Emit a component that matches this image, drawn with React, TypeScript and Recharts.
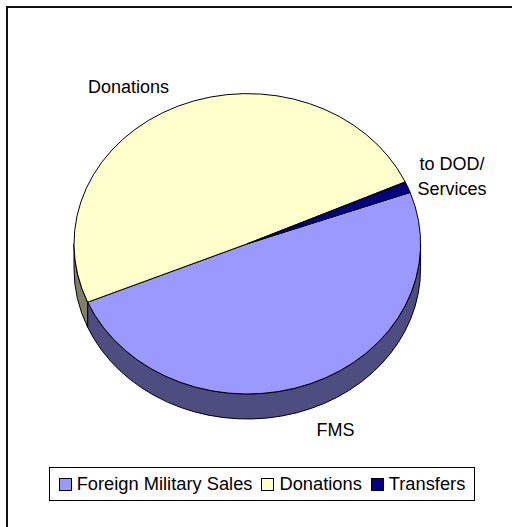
import React from 'react';
import { PieChart, Pie, Legend } from 'recharts';

const CATEGORIES = ['Foreign Military Sales', 'Donations', 'Transfers'];
const VALUES = [49.2, 49.6, 1.2];
const LABEL_LINES = [['FMS'], ['Donations'], ['to DOD/', 'Services']];

const TOP_COLORS = ['#9999FF', '#FFFFCC', '#000080'];
const SIDE_COLORS = ['#4D4D80', '#808066', '#000040'];

const CX = 247.3;
const CY = 243.8;
const RX = 173.3;
const ASPECT = 150.2 / 173.3;
const DEPTH = 25;
const LABEL_FACTOR = 1.25;
const LABEL_NUDGE = [
  [9, 11],
  [-32, 15],
  [4, 3],
];
const FONT = '"Liberation Sans", Arial, sans-serif';
const LABEL_FS = 18;
const LABEL_LH = 24.3;

const data = CATEGORIES.map((name, i) => ({ name, value: VALUES[i] }));

const rad = (d: number) => (d * Math.PI) / 180;

function pt(cx: number, cy: number, rx: number, ry: number, a: number, dy = 0) {
  return [cx + rx * Math.cos(rad(a)), cy - ry * Math.sin(rad(a)) + dy];
}

function wallPaths(cx: number, cy: number, rx: number, ry: number, s: number, e: number) {
  const lo = Math.min(s, e);
  const hi = Math.max(s, e);
  const out: string[] = [];
  for (let k = -3; k <= 2; k++) {
    const f0 = 180 + 360 * k;
    const f1 = 360 + 360 * k;
    const a = Math.max(lo, f0);
    const b = Math.min(hi, f1);
    if (b - a > 0.01) {
      const p1 = pt(cx, cy, rx, ry, a);
      const p2 = pt(cx, cy, rx, ry, b);
      const q2 = pt(cx, cy, rx, ry, b, DEPTH);
      const q1 = pt(cx, cy, rx, ry, a, DEPTH);
      out.push(
        `M${p1[0]},${p1[1]} A${rx},${ry} 0 0 0 ${p2[0]},${p2[1]} L${q2[0]},${q2[1]} A${rx},${ry} 0 0 1 ${q1[0]},${q1[1]} Z`
      );
    }
  }
  return out;
}

function renderSlice(props: any) {
  const { cx, cy, outerRadius, startAngle, endAngle, midAngle, index } = props;
  const rx = outerRadius;
  const ry = outerRadius * ASPECT;
  const walls = wallPaths(cx, cy, rx, ry, startAngle, endAngle);
  const ps = pt(cx, cy, rx, ry, startAngle);
  const pe = pt(cx, cy, rx, ry, endAngle);
  const large = Math.abs(startAngle - endAngle) > 180 ? 1 : 0;
  const sweep = startAngle > endAngle ? 1 : 0;
  const top = `M${cx},${cy} L${ps[0]},${ps[1]} A${rx},${ry} 0 ${large} ${sweep} ${pe[0]},${pe[1]} Z`;
  const mid = midAngle ?? (startAngle + endAngle) / 2;
  const lp = pt(cx, cy, rx * LABEL_FACTOR, ry * LABEL_FACTOR, mid);
  const lx = lp[0] + LABEL_NUDGE[index][0];
  const ly = lp[1] + LABEL_NUDGE[index][1];
  const lines = LABEL_LINES[index];
  const base = ly + 0.36 * LABEL_FS - ((lines.length - 1) * LABEL_LH) / 2;
  return (
    <g key={`slice-${index}`}>
      {walls.map((d, j) => (
        <path key={j} d={d} fill={SIDE_COLORS[index]} stroke="#000" strokeWidth={1} strokeLinejoin="round" />
      ))}
      <path d={top} fill={TOP_COLORS[index]} stroke="#000" strokeWidth={1} strokeLinejoin="round" />
      <text x={lx} y={base} textAnchor="middle" fontFamily={FONT} fontSize={LABEL_FS} fill="#000">
        {lines.map((l, j) => (
          <tspan key={j} x={lx} y={base + j * LABEL_LH}>
            {l}
          </tspan>
        ))}
      </text>
    </g>
  );
}

function renderLegend(props: any) {
  const payload = [...(props.payload || [])].sort(
    (a: any, b: any) => CATEGORIES.indexOf(a.value) - CATEGORIES.indexOf(b.value)
  );
  return (
    <div
      style={{
        border: '1px solid #000',
        boxSizing: 'border-box',
        height: 34,
        width: 426,
        display: 'flex',
        alignItems: 'center',
        justifyContent: 'center',
        background: '#fff',
        fontFamily: FONT,
        fontSize: 18.3,
        color: '#000',
        whiteSpace: 'nowrap',
      }}
    >
      {payload.map((entry: any, i: number) => {
        const ci = CATEGORIES.indexOf(entry.value);
        return (
          <span
            key={i}
            style={{ display: 'inline-flex', alignItems: 'center', marginRight: i < payload.length - 1 ? 9 : 0 }}
          >
            <span
              style={{
                display: 'inline-block',
                width: 13,
                height: 13,
                boxSizing: 'border-box',
                border: '1px solid #000',
                background: TOP_COLORS[ci],
                marginRight: 5,
              }}
            />
            {entry.value}
          </span>
        );
      })}
    </div>
  );
}

export default function App() {
  return (
    <div style={{ position: 'absolute', left: 0, top: 0, width: 512, height: 527, overflow: 'hidden', background: '#fff' }}>
      <div
        style={{
          position: 'absolute',
          left: 6,
          top: 6,
          width: 540,
          height: 560,
          border: '2px solid #111',
          boxSizing: 'border-box',
        }}
      />
      <div style={{ position: 'absolute', left: 0, top: 0 }}>
        <PieChart width={512} height={527} margin={{ top: 0, right: 0, bottom: 0, left: 0 }}>
          <Pie
            data={data}
            dataKey="value"
            nameKey="name"
            cx={CX}
            cy={CY}
            outerRadius={RX}
            startAngle={20}
            endAngle={-340}
            fill="none"
            stroke="none"
            label={renderSlice}
            labelLine={false}
            isAnimationActive={false}
          />
          <Legend
            content={renderLegend}
            wrapperStyle={{ left: 49, top: 467, bottom: 'auto', width: 426, height: 34 }}
          />
        </PieChart>
      </div>
    </div>
  );
}
